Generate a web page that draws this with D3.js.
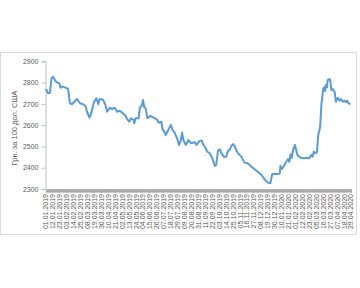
<!DOCTYPE html>
<html>
<head>
<meta charset="utf-8">
<script src="https://cdn.jsdelivr.net/npm/d3@7"></script>
<style>
  html, body { margin: 0; padding: 0; background: #fff; }
  svg { display: block; font-family: "Liberation Sans", Arial, sans-serif; }
</style>
</head>
<body>
<svg id="chart" width="360" height="288"></svg>
<script>
// date (dd.mm.yyyy) and rate, UAH per 100 USD
const dates = [
  "01.01.2019","04.01.2019","07.01.2019","10.01.2019","12.01.2019","16.01.2019","19.01.2019","22.01.2019",
  "24.01.2019","27.01.2019","01.02.2019","05.02.2019","08.02.2019","11.02.2019","15.02.2019","19.02.2019",
  "24.02.2019","01.03.2019","05.03.2019","07.03.2019","11.03.2019","13.03.2019","18.03.2019","22.03.2019",
  "25.03.2019","27.03.2019","01.04.2019","05.04.2019","08.04.2019","12.04.2019","16.04.2019","20.04.2019",
  "24.04.2019","28.04.2019","03.05.2019","07.05.2019","09.05.2019","13.05.2019","16.05.2019","20.05.2019",
  "21.05.2019","23.05.2019","28.05.2019","30.05.2019","02.06.2019","04.06.2019","06.06.2019","08.06.2019",
  "11.06.2019","15.06.2019","20.06.2019","26.06.2019","29.06.2019","03.07.2019","05.07.2019","08.07.2019",
  "10.07.2019","14.07.2019","18.07.2019","21.07.2019","24.07.2019","28.07.2019","31.07.2019","03.08.2019",
  "05.08.2019","07.08.2019","11.08.2019","15.08.2019","19.08.2019","25.08.2019","28.08.2019","01.09.2019",
  "05.09.2019","08.09.2019","10.09.2019","14.09.2019","18.09.2019","22.09.2019","26.09.2019","28.09.2019",
  "01.10.2019","04.10.2019","06.10.2019","10.10.2019","14.10.2019","17.10.2019","20.10.2019","22.10.2019",
  "25.10.2019","28.10.2019","30.10.2019","03.11.2019","07.11.2019","12.11.2019","17.11.2019","23.11.2019",
  "28.11.2019","03.12.2019","09.12.2019","14.12.2019","19.12.2019","23.12.2019","26.12.2019","30.12.2019",
  "04.01.2020","07.01.2020","08.01.2020","10.01.2020","13.01.2020","17.01.2020","20.01.2020","22.01.2020",
  "24.01.2020","26.01.2020","28.01.2020","31.01.2020","02.02.2020","04.02.2020","09.02.2020","14.02.2020",
  "19.02.2020","23.02.2020","26.02.2020","28.02.2020","01.03.2020","03.03.2020","06.03.2020","08.03.2020",
  "10.03.2020","11.03.2020","13.03.2020","16.03.2020","18.03.2020","19.03.2020","20.03.2020","22.03.2020",
  "23.03.2020","26.03.2020","27.03.2020","29.03.2020","31.03.2020","03.04.2020","05.04.2020","08.04.2020",
  "11.04.2020","13.04.2020","16.04.2020","19.04.2020","21.04.2020","23.04.2020","25.04.2020","28.04.2020"
];

const rates = [
  2770, 2751, 2751, 2820, 2828, 2807, 2800, 2797,
  2776, 2782, 2776, 2770, 2703, 2698, 2710, 2723,
  2703, 2698, 2687, 2663, 2635, 2648, 2707, 2726,
  2698, 2723, 2721, 2698, 2663, 2682, 2675, 2682,
  2663, 2668, 2656, 2645, 2632, 2616, 2632, 2624,
  2609, 2632, 2632, 2684, 2690, 2718, 2684, 2680,
  2632, 2643, 2637, 2627, 2611, 2616, 2580, 2569,
  2554, 2577, 2601, 2577, 2565, 2538, 2507, 2530,
  2565, 2530, 2507, 2530, 2515, 2520, 2507, 2525,
  2528, 2507, 2499, 2475, 2468, 2444, 2408, 2412,
  2480, 2486, 2470, 2452, 2452, 2480, 2486, 2502,
  2511, 2499, 2480, 2464, 2452, 2424, 2421, 2405,
  2393, 2381, 2366, 2345, 2330, 2327, 2370, 2370,
  2370, 2373, 2409, 2394, 2405, 2428, 2441, 2428,
  2463, 2446, 2483, 2507, 2483, 2460, 2447, 2444,
  2447, 2444, 2460, 2452, 2475, 2468, 2472, 2554,
  2577, 2593, 2695, 2773, 2778, 2760, 2789, 2778,
  2812, 2817, 2812, 2765, 2770, 2757, 2710, 2729,
  2715, 2723, 2710, 2715, 2708, 2715, 2703, 2698
];

const xLabels = [
  "01.01.2019","12.01.2019","23.01.2019","03.02.2019","14.02.2019","25.02.2019","08.03.2019","19.03.2019",
  "30.03.2019","10.04.2019","21.04.2019","02.05.2019","13.05.2019","24.05.2019","04.06.2019","15.06.2019",
  "26.06.2019","07.07.2019","18.07.2019","29.07.2019","09.08.2019","20.08.2019","31.08.2019","11.09.2019",
  "22.09.2019","03.10.2019","14.10.2019","25.10.2019","05.11.2019","16.11.2019","27.11.2019","08.12.2019",
  "19.12.2019","30.12.2019","10.01.2020","21.01.2020","01.02.2020","12.02.2020","23.02.2020","05.03.2020",
  "16.03.2020","27.03.2020","07.04.2020","18.04.2020","29.04.2020"
];

const yTicks = [2300, 2400, 2500, 2600, 2700, 2800, 2900];
const yTitle = "Грн. за 100 дол. США";

const parse = d3.timeParse("%d.%m.%Y");
const series = dates.map((d, i) => ({ date: parse(d), value: rates[i] }));

const svg = d3.select("#chart");

// chart area frame
svg.append("rect")
  .attr("x", 0.5).attr("y", 52.5)
  .attr("width", 356).attr("height", 182)
  .attr("fill", "#fff")
  .attr("stroke", "#d9d9d9")
  .attr("stroke-width", 1);

const x = d3.scaleTime()
  .domain([parse(xLabels[0]), parse(xLabels[xLabels.length - 1])])
  .range([46, 351]);

const y = d3.scaleLinear()
  .domain([2300, 2900])
  .range([189, 61.3]);

// y axis
const yAxis = svg.append("g")
  .attr("transform", "translate(45.5,0)")
  .call(d3.axisLeft(y).tickValues(yTicks).tickFormat(d3.format("d")).tickSize(4).tickPadding(3));
yAxis.select(".domain").attr("stroke", "#bfbfbf");
yAxis.selectAll(".tick line").attr("stroke", "#bfbfbf");
yAxis.selectAll("text")
  .attr("fill", "#595959")
  .attr("font-size", 7);

// x axis: one tick per day gives the thick grey band
const days = d3.timeDay.range(x.domain()[0], d3.timeDay.offset(x.domain()[1], 1));
const xAxis = svg.append("g")
  .attr("transform", "translate(0,189.5)")
  .call(d3.axisBottom(x).tickValues(days).tickSize(3).tickFormat(""));
xAxis.select(".domain").attr("stroke", "#a6a6a6");
xAxis.selectAll(".tick line").attr("stroke", "#a6a6a6");

svg.append("g")
  .selectAll("text")
  .data(xLabels)
  .join("text")
  .attr("transform", d => "translate(" + x(parse(d)) + ",194) rotate(-90)")
  .attr("text-anchor", "end")
  .attr("dy", "0.35em")
  .attr("font-size", 7)
  .attr("fill", "#595959")
  .text(d => d);

// axis title
svg.append("text")
  .attr("transform", "translate(14,128) rotate(-90)")
  .attr("text-anchor", "middle")
  .attr("dy", "0.35em")
  .attr("font-size", 7.5)
  .attr("fill", "#595959")
  .text(yTitle);

// the line
const line = d3.line()
  .x(d => x(d.date))
  .y(d => y(d.value));

svg.append("path")
  .datum(series)
  .attr("d", line)
  .attr("fill", "none")
  .attr("stroke", "#5b9bd5")
  .attr("stroke-width", 2)
  .attr("stroke-linejoin", "round");
</script>
</body>
</html>
